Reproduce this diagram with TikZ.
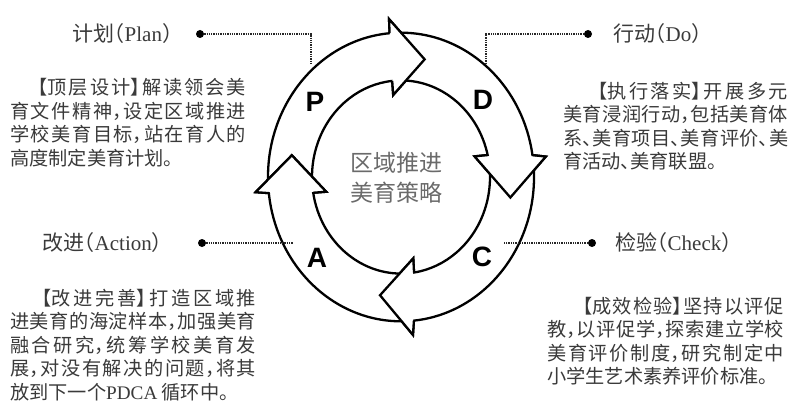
\documentclass[tikz,border=0pt]{standalone}
\usepackage{fontspec}
\setmainfont{Liberation Serif}
\newfontfamily\cjk{Noto Sans CJK SC}[RawFeature=+halt]
\newfontfamily\lsans{Liberation Sans}
\XeTeXlinebreaklocale "zh"
\XeTeXlinebreakskip=0pt plus 6pt
\definecolor{txt}{HTML}{3A3A3A}
\definecolor{hubgray}{HTML}{6A6A6A}
\tikzset{
    ring/.style={draw=black, fill=white, line width=2.3pt, line join=miter}
}
\tikzset{
    link/.style={line width=1.9pt, black!85, dash pattern=on 1.3pt off 1pt},
    dot/.style={circle, fill=black, inner sep=0pt, minimum size=8pt},
    title/.style={anchor=west, inner sep=0pt, text=txt,
        font=\cjk\fontsize{21}{21}\selectfont},
    blurb/.style={anchor=north west, inner sep=0pt, align=justify, text=txt,
        font=\cjk\fontsize{19.2}{23.5}\selectfont},
    letter/.style={inner sep=0pt, font=\lsans\bfseries\fontsize{28}{28}\selectfont}
}

\begin{document}
\begin{tikzpicture}[x=1pt,y=1pt]
  \useasboundingbox (0,0) rectangle (802,413);

  \begin{scope}[shift={(401,236)},yscale=1.085]
    \foreach \so/\si/\pv/\ho/\hn/\hp in {183/187/169.6/94.7/95.9/77.7,
        92.2/92.9/77.7/7.4/14.5/-9.8, 4.9/9/-9.8/-85.3/-80.7/-100.9,
        -87.8/-84/-100.9/-174.5/-169.7/-190.4}{
      \pgfmathsetmacro\ao{\ho+0.19*(\hn-\ho)}
      \pgfmathsetmacro\ai{\ho+0.81*(\hn-\ho)}
      \pgfmathsetmacro\nt{\pv+1.5}
      \draw[ring] (\so:133) arc[start angle=\so, end angle=\ao, radius=133]
        -- (\ho:146) -- (\hp:111) -- (\hn:76) -- (\ai:89)
        arc[start angle=\ai, end angle=\si, radius=89] -- (\nt:111) -- cycle;
    }
    \foreach \ho/\hn/\hp in {94.7/95.9/77.7, 7.4/14.5/-9.8,
        -85.3/-80.7/-100.9, -174.5/-169.7/-190.4}{
      \pgfmathsetmacro\ao{\ho+0.19*(\hn-\ho)}
      \pgfmathsetmacro\ai{\ho+0.81*(\hn-\ho)}
      \fill[white] (\ho:146) -- (\hp:111) -- (\hn:76) -- cycle;
      \draw[ring, fill=none] (\ao:133) -- (\ho:146) -- (\hp:111) -- (\hn:76) -- (\ai:89);
    }
  \end{scope}

  \node[letter] (lp) at (315,311) {P};
  \node[letter] (ld) at (483,313) {D};
  \node[letter] (lc) at (482,156) {C};
  \node[letter] (la) at (317,155) {A};
  \node (hub) [align=center, inner sep=0pt, text=hubgray,
    font=\cjk\fontsize{23}{30}\selectfont] at (396,235) {区域推进\\美育策略};

  \node[title] (plan) at (72,379) {计划（{\rmfamily Plan}）};
  \node[title] (do) at (613,379) {行动（{\rmfamily Do}）};
  \node[title] (act) at (42,170) {改进（{\rmfamily Action}）};
  \node[title] (check) at (615,170) {检验（{\rmfamily Check}）};

  \node[dot] (dp) at (200,379) {};
  \node[dot] (dd) at (588,379) {};
  \node[dot] (da) at (202,170) {};
  \node[dot] (dc) at (592,170) {};
  \coordinate (ep) at (311,349);
  \coordinate (ed) at (486,349);
  \coordinate (ea) at (293,170);
  \coordinate (ec) at (503,170);
  \draw[link] (dp) -| (ep);
  \draw[link] (dd) -| (ed);
  \draw[link] (da) -- (ea);
  \draw[link] (dc) -- (ec);

  \node[blurb, text width=236pt] (tp) at (10,334.5) {\hspace*{1.45em}【顶层设计】解读领会美\linebreak 育文件精神，设定区域推进\linebreak 学校美育目标，站在育人的\linebreak 高度制定美育计划。};
  \node[blurb, text width=225pt] (td) at (563,331) {\hspace*{1.8em}【执行落实】开展多元\linebreak 美育浸润行动，包括美育体\linebreak 系、美育项目、美育评价、美\linebreak 育活动、美育联盟。};
  \node[blurb, text width=246pt] (ta) at (10,124.5) {\hspace*{1.65em}【改进完善】打造区域推\linebreak 进美育的海淀样本，加强美育\linebreak 融合研究，统筹学校美育发\linebreak 展，对没有解决的问题，将其\linebreak 放到下一个{\rmfamily PDCA} 循环中。};
  \node[blurb, text width=237pt] (tc) at (547,116) {\hspace*{1.85em}【成效检验】坚持以评促\linebreak 教，以评促学，探索建立学校\linebreak 美育评价制度，研究制定中\linebreak 小学生艺术素养评价标准。};
\end{tikzpicture}
\end{document}
